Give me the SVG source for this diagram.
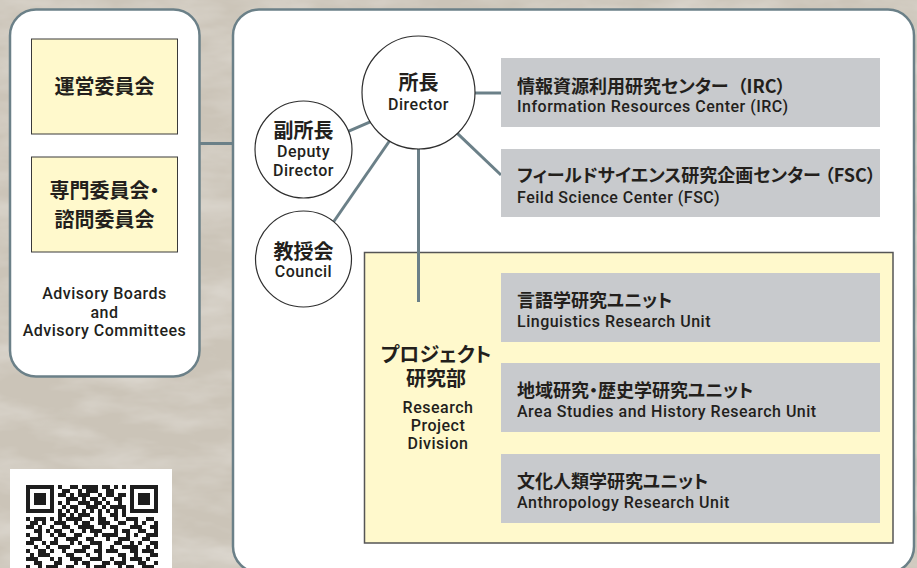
<svg xmlns="http://www.w3.org/2000/svg" width="917" height="568" viewBox="0 0 917 568">
<defs>
<style>
.panel{fill:#fff;stroke:#6b8088;stroke-width:2.5}
.ybox{fill:#fff9cc;stroke:#3a3a3a;stroke-width:1}
.gbox{fill:#c8cacd}
.circ{fill:#fff;stroke:#2f2f2f;stroke-width:1.2}
.conn{stroke:#6b8088;stroke-width:3;fill:none}
.jp{font-family:"Noto Sans CJK JP","Noto Sans CJK SC",sans-serif;font-weight:700;fill:#231f1c;font-feature-settings:"palt"}
.en{font-family:Roboto,"Liberation Sans",sans-serif;font-weight:500;fill:#231f1c;letter-spacing:0.5px}
.c{text-anchor:middle}
</style>
<filter id="tex" x="0" y="0" width="100%" height="100%">
<feTurbulence type="fractalNoise" baseFrequency="0.012 0.035" numOctaves="4" seed="7"/>
<feColorMatrix type="matrix" values="0 0 0 0 1  0 0 0 0 1  0 0 0 0 1  0.6 0 0 0 -0.22"/>
</filter>
</defs>
<rect x="0" y="0" width="917" height="568" fill="#cbc4b8"/>
<rect x="0" y="0" width="917" height="568" filter="url(#tex)"/>

<g id="advisory-panel">
<rect class="panel" x="10" y="9.5" width="189.5" height="367" rx="26"/>
</g>
<g id="main-panel">
<rect class="panel" x="233" y="9.5" width="681" height="563" rx="26"/>
</g>

<g id="project-division">
<rect x="364.5" y="252.5" width="528.5" height="290.5" fill="#fff9cc" stroke="#555" stroke-width="1.5"/>
<text class="jp c" x="436" y="362" font-size="20">プロジェクト</text>
<text class="jp c" x="436" y="386" font-size="20">研究部</text>
<text class="en c" x="438" y="413" font-size="16">Research</text>
<text class="en c" x="438" y="431" font-size="16">Project</text>
<text class="en c" x="438" y="449" font-size="16">Division</text>
</g>

<g id="connectors">
<line class="conn" x1="199" y1="143.5" x2="233" y2="143.5"/>
<line class="conn" x1="470" y1="93" x2="501" y2="93"/>
<line class="conn" x1="450" y1="126.4" x2="501" y2="175"/>
<line class="conn" x1="343" y1="133.6" x2="376" y2="119.4"/>
<line class="conn" x1="395" y1="133" x2="330" y2="227"/>
<line class="conn" x1="418.5" y1="145" x2="418.5" y2="302"/>
</g>

<g id="board-steering">
<rect class="ybox" x="31.5" y="39" width="146" height="95"/>
<text class="jp c" x="104.5" y="94" font-size="20">運営委員会</text>
</g>
<g id="board-expert">
<rect class="ybox" x="31.5" y="157" width="146" height="95"/>
<text class="jp c" x="104.5" y="198" font-size="20">専門委員会・</text>
<text class="jp c" x="104.5" y="227" font-size="20">諮問委員会</text>
</g>
<g id="advisory-label">
<text class="en c" x="104.5" y="299" font-size="16">Advisory Boards</text>
<text class="en c" x="104.5" y="318" font-size="16">and</text>
<text class="en c" x="104.5" y="336" font-size="16">Advisory Committees</text>
</g>

<g id="director">
<circle class="circ" cx="418.5" cy="92.5" r="56.5"/>
<text class="jp c" x="418.5" y="90" font-size="20">所長</text>
<text class="en c" x="418.5" y="110" font-size="16">Director</text>
</g>
<g id="deputy-director">
<circle class="circ" cx="303.5" cy="149.5" r="48.5"/>
<text class="jp c" x="303.5" y="138" font-size="20">副所長</text>
<text class="en c" x="303.5" y="157" font-size="16">Deputy</text>
<text class="en c" x="303.5" y="175.5" font-size="16">Director</text>
</g>
<g id="council">
<circle class="circ" cx="303.5" cy="259" r="48"/>
<text class="jp c" x="303.5" y="258.5" font-size="20">教授会</text>
<text class="en c" x="303.5" y="276.5" font-size="16">Council</text>
</g>

<g id="irc">
<rect class="gbox" x="501" y="58" width="379" height="69"/>
<text class="jp" x="517" y="93" font-size="18">情報資源利用研究センター<tspan dx="9">（IRC）</tspan></text>
<text class="en" x="517" y="112" font-size="16">Information Resources Center (IRC)</text>
</g>
<g id="fsc">
<rect class="gbox" x="501" y="149" width="379" height="68"/>
<text class="jp" x="517" y="182" font-size="18">フィールドサイエンス研究企画センター<tspan dx="4">（FSC）</tspan></text>
<text class="en" x="517" y="203" font-size="16">Feild Science Center (FSC)</text>
</g>
<g id="unit-linguistics">
<rect class="gbox" x="501" y="273" width="379" height="69"/>
<text class="jp" x="517" y="307" font-size="18">言語学研究ユニット</text>
<text class="en" x="517" y="327" font-size="16">Linguistics Research Unit</text>
</g>
<g id="unit-area">
<rect class="gbox" x="501" y="363" width="379" height="69"/>
<text class="jp" x="517" y="397" font-size="18">地域研究・歴史学研究ユニット</text>
<text class="en" x="517" y="417" font-size="16">Area Studies and History Research Unit</text>
</g>
<g id="unit-anthropology">
<rect class="gbox" x="501" y="454" width="379" height="69"/>
<text class="jp" x="517" y="488" font-size="18">文化人類学研究ユニット</text>
<text class="en" x="517" y="508" font-size="16">Anthropology Research Unit</text>
</g>

<g id="qr">
<rect x="10" y="469" width="162" height="110" fill="#fff"/>
<g fill="#1e1e1e">
<rect x="26" y="485" width="28" height="28"/><rect x="30" y="489" width="20" height="20" fill="#fff"/><rect x="34" y="493" width="12" height="12"/>
<rect x="130" y="485" width="28" height="28"/><rect x="134" y="489" width="20" height="20" fill="#fff"/><rect x="138" y="493" width="12" height="12"/>
<path d="M58 485h4v4h-4zM70 485h8v4h-8zM82 485h16v4h-16zM102 485h8v4h-8zM114 485h4v4h-4zM122 485h4v4h-4z
M62 489h8v4h-8zM78 489h4v4h-4zM86 489h12v4h-12zM106 489h8v4h-8z
M58 493h8v4h-8zM70 493h4v4h-4zM78 493h12v4h-12zM98 493h4v4h-4zM106 493h8v4h-8zM118 493h8v4h-8z
M66 497h12v4h-12zM82 497h4v4h-4zM90 497h8v4h-8zM102 497h4v4h-4zM114 497h8v4h-8z
M58 501h4v4h-4zM66 501h4v4h-4zM78 501h12v4h-12zM94 501h8v4h-8zM106 501h4v4h-4zM118 501h4v4h-4z
M62 505h4v4h-4zM70 505h8v4h-8zM86 505h12v4h-12zM102 505h4v4h-4zM110 505h16v4h-16z
M58 509h4v4h-4zM66 509h4v4h-4zM74 509h4v4h-4zM82 509h4v4h-4zM90 509h4v4h-4zM98 509h4v4h-4zM106 509h4v4h-4zM114 509h4v4h-4zM122 509h4v4h-4z
M58 513h8v4h-8zM70 513h4v4h-4zM78 513h12v4h-12zM98 513h4v4h-4zM110 513h8v4h-8zM122 513h4v4h-4z
M26 517h4v4h-4zM34 517h12v4h-12zM50 517h4v4h-4zM58 517h4v4h-4zM66 517h16v4h-16zM90 517h4v4h-4zM98 517h8v4h-8zM114 517h4v4h-4zM126 517h12v4h-12zM146 517h8v4h-8z
M30 521h8v4h-8zM42 521h4v4h-4zM54 521h12v4h-12zM74 521h4v4h-4zM82 521h8v4h-8zM98 521h12v4h-12zM118 521h8v4h-8zM134 521h4v4h-4zM142 521h4v4h-4zM154 521h4v4h-4z
M26 525h8v4h-8zM38 525h4v4h-4zM50 525h4v4h-4zM62 525h8v4h-8zM78 525h16v4h-16zM102 525h4v4h-4zM110 525h8v4h-8zM130 525h12v4h-12zM150 525h8v4h-8z
M34 529h8v4h-8zM46 529h4v4h-4zM54 529h8v4h-8zM70 529h4v4h-4zM82 529h4v4h-4zM90 529h12v4h-12zM114 529h4v4h-4zM122 529h8v4h-8zM138 529h8v4h-8zM154 529h4v4h-4z
M26 533h4v4h-4zM38 533h4v4h-4zM50 533h4v4h-4zM58 533h8v4h-8zM74 533h8v4h-8zM94 533h4v4h-4zM102 533h16v4h-16zM126 533h4v4h-4zM134 533h4v4h-4zM146 533h12v4h-12z
M30 537h12v4h-12zM54 537h4v4h-4zM66 537h12v4h-12zM86 537h8v4h-8zM106 537h4v4h-4zM118 537h12v4h-12zM142 537h8v4h-8z
M26 541h8v4h-8zM42 541h4v4h-4zM50 541h8v4h-8zM70 541h4v4h-4zM78 541h4v4h-4zM90 541h12v4h-12zM114 541h8v4h-8zM130 541h4v4h-4zM138 541h4v4h-4zM150 541h8v4h-8z
M34 545h4v4h-4zM46 545h4v4h-4zM58 545h12v4h-12zM82 545h8v4h-8zM98 545h4v4h-4zM110 545h4v4h-4zM122 545h16v4h-16zM146 545h4v4h-4zM154 545h4v4h-4z
M26 549h4v4h-4zM38 549h8v4h-8zM50 549h4v4h-4zM62 549h4v4h-4zM74 549h12v4h-12zM94 549h8v4h-8zM106 549h12v4h-12zM130 549h8v4h-8zM142 549h12v4h-12z
M30 553h4v4h-4zM38 553h12v4h-12zM66 553h8v4h-8zM86 553h4v4h-4zM98 553h4v4h-4zM118 553h8v4h-8zM134 553h4v4h-4zM150 553h8v4h-8z
M26 557h12v4h-12zM50 557h4v4h-4zM58 557h4v4h-4zM70 557h12v4h-12zM90 557h12v4h-12zM110 557h4v4h-4zM122 557h4v4h-4zM130 557h12v4h-12zM146 557h4v4h-4z
M34 561h8v4h-8zM54 561h8v4h-8zM74 561h4v4h-4zM82 561h8v4h-8zM102 561h8v4h-8zM114 561h12v4h-12zM138 561h8v4h-8zM154 561h4v4h-4z
M26 565h4v4h-4zM38 565h4v4h-4zM46 565h12v4h-12zM66 565h8v4h-8zM86 565h4v4h-4zM94 565h12v4h-12zM118 565h4v4h-4zM126 565h8v4h-8zM142 565h12v4h-12z"/>
</g>
</g>
</svg>
